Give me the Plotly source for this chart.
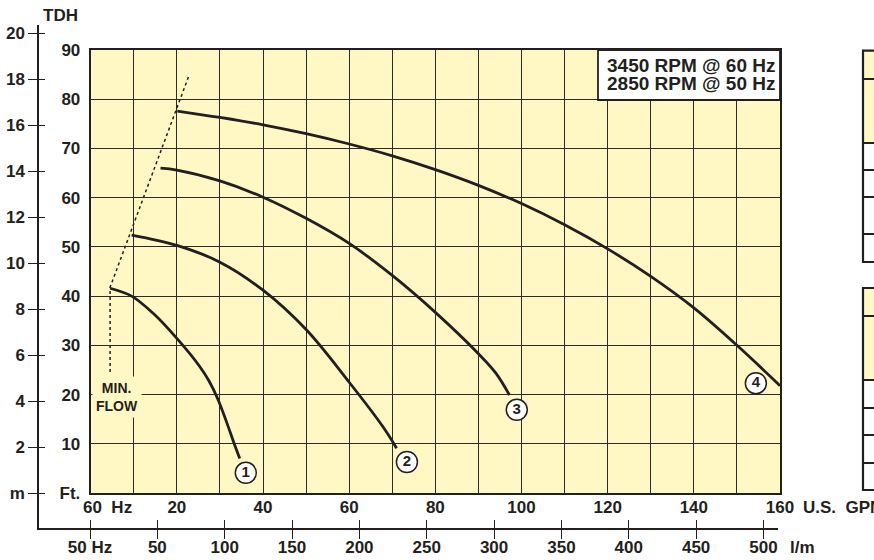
import plotly.graph_objects as go

# ---------------- data ----------------
gpm_1 = [4.5, 9.5, 14.5, 20.0, 25.3, 27.5, 29.5, 31.5, 33.4, 34.6]
ft_1 = [41.6, 40.0, 36.5, 31.4, 25.7, 22.7, 19.1, 14.5, 9.8, 7.0]

gpm_2 = [9.5, 20.0, 30.0, 40.0, 50.0, 60.0, 67.8, 71.0]
ft_2 = [52.4, 50.3, 46.9, 41.2, 33.2, 22.5, 13.5, 9.1]

gpm_3 = [16.2, 20.0, 30.0, 40.0, 50.0, 60.0, 70.0, 80.0, 90.0, 94.0, 97.2]
ft_3 = [66.0, 65.6, 63.4, 60.1, 55.8, 50.7, 44.2, 36.7, 28.3, 24.4, 19.9]

gpm_4 = [20.1, 30, 40, 50, 60, 70, 80, 90, 100, 110, 120, 130, 140, 150, 160]
ft_4 = [77.6, 76.3, 74.8, 73.0, 70.9, 68.5, 65.7, 62.5, 58.8, 54.5, 49.6, 44.0, 37.6, 30.0, 21.8]

curves_gpm = [gpm_1, gpm_2, gpm_3, gpm_4]
curves_ft = [ft_1, ft_2, ft_3, ft_4]

minflow_gpm = [4.5, 4.5, 22.8]
minflow_ft = [24.6, 41.8, 84.8]

label_names = ["1", "2", "3", "4"]
label_gpm = [36.0, 73.4, 98.9, 154.4]
label_ft = [4.1, 6.3, 16.9, 22.3]

gpm_ticks = list(range(0, 161, 10))
gpm_ticktext = ["", "", "20", "", "40", "", "60", "", "80", "", "100", "", "120", "", "140", "", "160"]
ft_ticks = list(range(0, 91, 10))
ft_ticktext = ["Ft.", "10", "20", "30", "40", "50", "60", "70", "80", "90"]
m_ticks = list(range(0, 21, 2))
m_ticktext = ["m", "2", "4", "6", "8", "10", "12", "14", "16", "18", "20"]
lpm_ticks = list(range(0, 501, 50))
lpm_ticktext = ["50 Hz", "50", "100", "150", "200", "250", "300", "350", "400", "450", "500"]

rpm_lines = ["3450 RPM @ 60 Hz", "2850 RPM @ 50 Hz"]

# ---------------- layout helpers ----------------
W, H = 874, 560
def fx(p):
    return p / W
def fy(p):
    return 1 - p / H

INK = "#231f20"
YEL = "#fff7c4"
FONT = "Liberation Sans, Arial, sans-serif"

fig = go.Figure()

# helper traces that create the secondary (m / l/m) axes
fig.add_trace(go.Scatter(x=[], y=[], xaxis="x2", yaxis="y2", showlegend=False, hoverinfo="skip"))
fig.add_trace(go.Scatter(x=[], y=[], xaxis="x3", yaxis="y2", showlegend=False, hoverinfo="skip"))
fig.add_trace(go.Scatter(x=[], y=[], xaxis="x2", yaxis="y3", showlegend=False, hoverinfo="skip"))

# min flow dotted line
fig.add_trace(go.Scatter(x=minflow_gpm, y=minflow_ft, mode="lines",
                         line=dict(color=INK, width=1.5, dash="dot"),
                         showlegend=False, hoverinfo="skip"))

# pump curves
for gx, fy_ in zip(curves_gpm, curves_ft):
    fig.add_trace(go.Scatter(x=gx, y=fy_, mode="lines",
                             line=dict(color=INK, width=2.8, shape="spline", smoothing=1.0),
                             showlegend=False, hoverinfo="skip"))

# circled curve numbers
fig.add_trace(go.Scatter(x=label_gpm, y=label_ft, mode="markers+text", text=label_names,
                         textposition="middle center",
                         textfont=dict(family=FONT, size=15, color=INK, weight="bold"),
                         marker=dict(size=21, color="white", line=dict(color=INK, width=1.5)),
                         cliponaxis=False, showlegend=False, hoverinfo="skip"))

tickfont = dict(family=FONT, size=17, color=INK, weight="bold")

# l/m and m scale geometry (pixels)
LPM_PX = 1.347
M_PX = 23.0
lpm_range = [(39 - 90) / LPM_PX, (778 - 90) / LPM_PX]
m_range = [(493 - 528) / M_PX, (493 - 25) / M_PX]

fig.update_layout(
    width=W, height=H, autosize=False,
    margin=dict(l=0, r=0, t=0, b=0, pad=0),
    paper_bgcolor="white", plot_bgcolor="rgba(0,0,0,0)",
    font=dict(family=FONT, color=INK),
    xaxis=dict(domain=[fx(90.7), fx(780)], range=[0, 160], anchor="y", automargin=False,
               tickmode="array", tickvals=gpm_ticks, ticktext=gpm_ticktext,
               showgrid=True, gridcolor="#2b2b2b", gridwidth=1.2,
               showline=True, linecolor=INK, linewidth=2, mirror=True,
               ticks="", zeroline=False, tickfont=tickfont, ticklabelstandoff=-2),
    yaxis=dict(domain=[fy(493), fy(50)], range=[0, 90], anchor="x", automargin=False,
               tickmode="array", tickvals=ft_ticks, ticktext=ft_ticktext,
               showgrid=True, gridcolor="#2b2b2b", gridwidth=1.2,
               showline=True, linecolor=INK, linewidth=2, mirror=True,
               ticks="", zeroline=False, tickfont=tickfont, ticklabelstandoff=5),
    xaxis2=dict(domain=[fx(39), fx(778)], range=lpm_range, anchor="y2", automargin=False,
                tickmode="array", tickvals=lpm_ticks, ticktext=lpm_ticktext,
                ticks="outside", ticklen=9, tickwidth=1.3, tickcolor=INK,
                showline=True, linecolor=INK, linewidth=1.5, ticklabelstandoff=-6,
                showgrid=False, zeroline=False, tickfont=tickfont),
    xaxis3=dict(overlaying="x2", range=lpm_range, anchor="y2", automargin=False,
                tickmode="array", tickvals=lpm_ticks,
                ticks="inside", ticklen=8, tickwidth=1.3, tickcolor=INK,
                showticklabels=False, showline=False, showgrid=False, zeroline=False),
    yaxis2=dict(domain=[fy(528), fy(25)], range=m_range, anchor="x2", side="left", automargin=False,
                tickmode="array", tickvals=m_ticks, ticktext=m_ticktext,
                ticks="outside", ticklen=9, tickwidth=1.3, tickcolor=INK,
                showline=True, linecolor=INK, linewidth=1.5,
                showgrid=False, zeroline=False, tickfont=tickfont),
    yaxis3=dict(overlaying="y2", range=m_range, anchor="x2", side="left", automargin=False,
                tickmode="array", tickvals=m_ticks,
                ticks="inside", ticklen=6, tickwidth=1.3, tickcolor=INK,
                showticklabels=False, showline=False, showgrid=False, zeroline=False),
)

shapes = []
# yellow plot background
shapes.append(dict(type="rect", xref="x domain", yref="y domain", x0=0, x1=1, y0=0, y1=1,
                   fillcolor=YEL, line=dict(width=0), layer="below"))
# RPM box
shapes.append(dict(type="rect", xref="paper", yref="paper", x0=fx(598), x1=fx(780), y0=fy(100), y1=fy(50),
                   fillcolor="white", line=dict(color=INK, width=1.8), layer="above"))

# partially visible table at the right edge
def table(top, yel_end, lines, bottom):
    out = []
    out.append(dict(type="rect", xref="paper", yref="paper", x0=fx(863), x1=fx(900), y0=fy(yel_end), y1=fy(top),
                    fillcolor=YEL, line=dict(width=0), layer="above"))
    out.append(dict(type="rect", xref="paper", yref="paper", x0=fx(863), x1=fx(900), y0=fy(bottom), y1=fy(top),
                    fillcolor="rgba(0,0,0,0)", line=dict(color=INK, width=2.2), layer="above"))
    for ln in lines:
        out.append(dict(type="line", xref="paper", yref="paper", x0=fx(863), x1=fx(900), y0=fy(ln), y1=fy(ln),
                        line=dict(color=INK, width=2), layer="above"))
    return out

shapes += table(50.7, 143, [79, 143, 170, 197, 234], 262)
shapes += table(288, 380, [316, 380, 408, 435, 463], 490)

fig.update_layout(shapes=shapes)

ann = []
labfont = dict(family=FONT, size=17, color=INK, weight="bold")
ann.append(dict(xref="paper", yref="paper", x=fx(60), y=fy(15), text="TDH", showarrow=False,
                xanchor="center", yanchor="middle", font=labfont))
ann.append(dict(xref="paper", yref="paper", x=fx(107), y=fy(507), text="60\u00a0\u00a0Hz", showarrow=False,
                xanchor="center", yanchor="middle", font=labfont))
ann.append(dict(xref="paper", yref="paper", x=fx(801), y=fy(507), text="U.S.\u00a0\u00a0GPM", showarrow=False,
                xanchor="left", yanchor="middle", font=labfont))
ann.append(dict(xref="paper", yref="paper", x=fx(788), y=fy(547), text="l/m", showarrow=False,
                xanchor="left", yanchor="middle", font=labfont))
for i, t in enumerate(rpm_lines):
    ann.append(dict(xref="paper", yref="paper", x=fx(605), y=fy(65 + 18 * i), text=t, showarrow=False,
                    xanchor="left", yanchor="middle",
                    font=dict(family=FONT, size=19, color=INK, weight="bold")))
ann.append(dict(xref="paper", yref="paper", x=fx(117), y=fy(397), text="MIN.<br>FLOW", showarrow=False,
                xanchor="center", yanchor="middle", bgcolor=YEL, borderpad=3,
                font=dict(family=FONT, size=14, color=INK, weight="bold")))
fig.update_layout(annotations=ann)

fig.write_html("out.html", config={"displayModeBar": False},
               post_script="document.body.style.margin='0';document.body.style.overflow='hidden';")
